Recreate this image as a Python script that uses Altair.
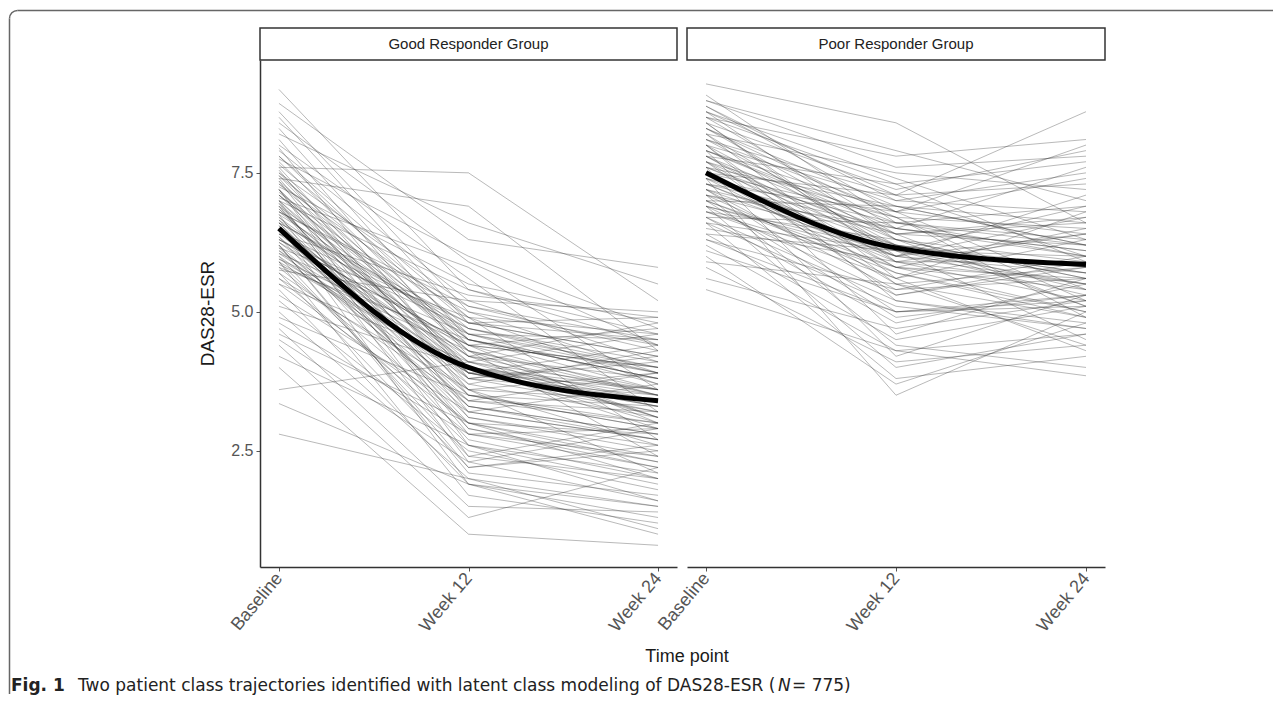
import altair as alt
import pandas as pd

timepoints = ["Baseline", "Week 12", "Week 24"]
group_titles = ["Good Responder Group", "Poor Responder Group"]
y_ticks = [2.5, 5.0, 7.5]

good_base = [9.0, 8.75, 8.6, 8.5, 8.4, 8.3, 8.2, 8.1, 8.0, 7.95, 7.9, 7.8, 7.75, 7.7, 7.6,
             7.55, 7.5, 7.45, 7.4, 7.35, 7.3, 7.25, 7.2, 7.15, 7.1, 7.05, 7.0, 6.95, 6.9, 6.85,
             6.8, 6.75, 6.7, 6.65, 6.6, 6.55, 6.5, 6.45, 6.4, 6.35, 6.3, 6.25, 6.2, 6.15, 6.1,
             6.05, 6.0, 5.95, 5.9, 5.85, 5.8, 5.75, 5.7, 5.6, 5.5, 5.4, 5.3, 5.2, 5.1, 5.0,
             4.9, 4.8, 4.7, 4.6, 4.5, 4.4, 4.2, 4.0, 3.6, 3.35, 2.8,
             7.65, 7.35, 7.1, 6.95, 6.85, 6.75, 6.65, 6.55, 6.45, 6.35,
             6.25, 6.15, 6.05, 5.95, 6.9, 7.2, 7.45, 6.6, 6.3, 7.0,
             7.8, 7.6, 7.5, 7.4, 7.3, 7.2, 7.1, 7.0, 6.9, 6.8, 6.7, 6.6, 6.5, 6.4, 6.3,
             6.2, 6.1, 6.0, 5.9, 5.8, 5.7, 5.6, 5.5, 6.8, 7.0, 7.2, 6.4, 6.6, 5.9, 6.2]
good_w12 = [5.4, 6.3, 5.0, 4.8, 5.9, 4.5, 6.6, 4.2, 5.6, 3.8, 5.2, 4.9, 6.0, 4.4, 7.5,
            3.5, 5.1, 4.7, 6.9, 3.2, 4.3, 5.5, 2.6, 4.6, 3.9, 5.8, 4.1, 2.9, 4.5, 3.6,
            5.0, 2.3, 4.2, 3.4, 4.8, 1.9, 4.0, 3.1, 5.3, 2.7, 4.4, 3.7, 2.1, 4.9, 3.3,
            4.6, 2.4, 3.9, 1.7, 4.3, 3.0, 5.2, 2.2, 3.6, 4.1, 1.9, 3.2, 2.5, 4.0, 2.0,
            3.5, 2.8, 1.5, 3.0, 2.3, 1.3, 2.6, 1.0, 4.1, 1.9, 2.0,
            4.8, 4.5, 4.4, 4.0, 3.9, 4.6, 4.3, 3.8, 4.1, 3.5,
            4.2, 3.4, 3.8, 4.4, 3.3, 3.7, 4.0, 3.0, 4.7, 5.4,
            4.6, 3.9, 4.3, 3.6, 4.9, 3.1, 4.5, 3.8, 2.8, 4.2, 3.5, 4.7, 2.9, 3.9, 4.4,
            3.2, 4.0, 3.6, 2.6, 4.5, 3.4, 2.8, 3.0, 5.1, 2.4, 4.0, 4.8, 3.3, 3.9, 2.2]
good_w24 = [4.6, 5.8, 3.9, 4.9, 4.4, 3.6, 5.5, 4.8, 3.2, 4.1, 5.0, 2.7, 4.7, 3.5, 5.2,
            2.9, 4.5, 3.9, 4.3, 3.7, 2.4, 4.8, 1.9, 4.0, 3.3, 3.6, 4.6, 2.2, 3.8, 2.6,
            4.4, 1.6, 3.1, 3.9, 4.2, 1.3, 3.4, 2.5, 4.9, 2.0, 3.0, 4.3, 1.7, 3.7, 2.8,
            4.5, 3.0, 3.2, 1.2, 3.5, 2.3, 4.1, 2.6, 2.1, 3.6, 1.5, 2.7, 1.8, 2.9, 1.1,
            3.3, 2.2, 1.4, 2.0, 2.9, 2.2, 1.6, 0.8, 3.1, 1.0, 1.5,
            4.2, 3.8, 4.0, 3.5, 3.3, 3.9, 3.6, 3.2, 3.4, 2.9,
            3.8, 3.0, 3.5, 4.0, 2.7, 3.1, 3.0, 2.4, 4.1, 4.4,
            3.7, 4.4, 3.1, 3.4, 4.6, 2.6, 3.9, 4.2, 2.9, 3.5, 3.0, 4.0, 2.3, 3.6, 4.7,
            2.7, 3.3, 3.9, 2.1, 3.8, 3.2, 2.4, 2.8, 4.3, 2.0, 3.6, 4.5, 2.8, 3.4, 2.5]

poor_base = [9.1, 8.6, 8.8, 8.7, 8.6, 8.5, 8.5, 8.4, 8.4, 8.3, 8.2, 8.2, 8.1, 8.0, 8.0,
             7.9, 7.9, 7.8, 7.8, 7.7, 7.7, 7.6, 7.6, 7.5, 7.5, 7.4, 7.4, 7.3, 7.3, 7.2,
             7.2, 7.1, 7.1, 7.0, 7.0, 6.9, 6.9, 6.8, 6.8, 6.7, 6.7, 6.6, 6.6, 6.5, 6.4,
             6.4, 6.3, 6.2, 6.1, 6.0, 5.9, 5.8, 5.6, 5.4,
             7.6, 7.5, 7.4, 7.3, 7.2, 7.7, 7.8, 7.9, 8.0, 8.1, 7.0, 6.9, 8.3, 7.5, 7.1,
             8.7, 8.6, 8.5, 8.4, 8.3, 8.2, 8.1, 8.0, 7.9, 7.8, 7.7, 7.6, 7.5, 7.4, 7.3,
             7.2, 7.1, 7.0, 6.9, 6.8, 6.7, 6.6, 8.8, 8.9, 6.3]
poor_w12 = [8.4, 7.1, 7.9, 6.8, 7.4, 6.5, 7.8, 6.0, 7.2, 6.9, 5.6, 7.5, 6.3, 7.0, 5.2,
            6.6, 4.6, 6.1, 7.3, 5.8, 6.7, 4.2, 6.4, 5.5, 7.1, 6.2, 3.5, 5.9, 6.8, 5.0,
            6.0, 4.4, 6.5, 5.7, 6.9, 5.3, 4.0, 6.3, 5.6, 4.8, 6.6, 5.1, 3.8, 5.9, 4.5,
            6.1, 5.4, 4.3, 5.0, 3.7, 5.5, 4.1, 4.7, 4.3,
            6.2, 5.8, 6.6, 6.0, 6.4, 6.3, 5.9, 6.5, 6.2, 6.8, 5.8, 6.1, 6.4, 6.7, 5.6,
            7.0, 6.3, 7.3, 5.9, 6.7, 6.1, 7.1, 5.5, 6.8, 6.4, 5.3, 6.9, 6.0, 5.7, 6.5,
            5.4, 6.2, 4.9, 6.0, 5.8, 5.2, 6.1, 7.6, 6.6, 5.0]
poor_w24 = [6.6, 8.6, 7.0, 8.0, 6.3, 7.6, 8.1, 5.5, 7.9, 6.2, 6.8, 7.2, 5.1, 7.5, 4.8,
            6.9, 5.6, 6.0, 5.9, 6.5, 4.9, 5.3, 6.7, 4.4, 7.3, 5.7, 5.0, 6.4, 5.4, 5.2,
            7.1, 4.0, 6.1, 5.0, 6.6, 5.8, 4.6, 5.6, 4.3, 5.5, 6.3, 4.7, 4.2, 5.9, 5.1,
            4.5, 6.0, 3.85, 5.3, 4.8, 4.9, 4.4, 5.2, 4.6,
            5.8, 5.4, 6.0, 5.7, 6.2, 5.9, 5.5, 6.1, 5.7, 6.4, 5.6, 5.3, 6.6, 5.2, 6.3,
            6.8, 5.6, 7.7, 5.2, 6.5, 6.9, 6.0, 5.8, 7.4, 5.1, 5.9, 6.2, 6.7, 4.9, 6.0,
            5.6, 5.4, 5.3, 6.4, 5.0, 4.7, 5.5, 7.8, 6.2, 5.1]

good_mean = [6.5, 4.0, 3.4]
poor_mean = [7.5, 6.15, 5.85]

assert len(good_base) == len(good_w12) == len(good_w24)
assert len(poor_base) == len(poor_w12) == len(poor_w24)


def long_df(base, w12, w24):
    rows = []
    for i, vals in enumerate(zip(base, w12, w24)):
        for t, v in zip(timepoints, vals):
            rows.append({"id": i, "time": t, "value": v})
    return pd.DataFrame(rows)


def mean_df(vals):
    return pd.DataFrame({"time": timepoints, "value": vals})


FONT = "Liberation Sans"
CAP_FONT = "DejaVu Sans"
CAP_SIZE = 17
H = 507
Y_DOMAIN = [0.41, 9.53]
one = alt.Data(values=[{}])


def panel(df, mdf, title, width, show_y):
    x = alt.X("time:N",
              scale=alt.Scale(type="point", domain=timepoints, padding=0.1),
              axis=alt.Axis(title=None, labelAngle=-50, labelAlign="right",
                            labelBaseline="middle", labelFontSize=18, labelColor="#555555",
                            labelFont=FONT, tickColor="#555555", tickSize=4, labelPadding=4,
                            domainColor="#333333", domainWidth=1.5, grid=False))
    if show_y:
        yax = alt.Axis(title=None, values=y_ticks, format=".1f", labelFontSize=16,
                       labelColor="#555555", labelFont=FONT, tickColor="#555555", tickSize=4,
                       labelPadding=3, domainColor="#333333", domainWidth=1.5, grid=False)
    else:
        yax = None
    y = alt.Y("value:Q", scale=alt.Scale(domain=Y_DOMAIN, nice=False, zero=False), axis=yax)

    lines = alt.Chart(df).mark_line(stroke="#333333", strokeWidth=1, opacity=0.34).encode(
        x=x, y=y, detail="id:N")
    mean = alt.Chart(mdf).mark_line(color="black", strokeWidth=5, interpolate="monotone").encode(
        x=x, y=y)
    strip = alt.Chart(one).mark_rect(fill="white", stroke="#333333", strokeWidth=1.5).encode(
        x=alt.value(0), x2=alt.value(width), y=alt.value(-32), y2=alt.value(0))
    strip_text = alt.Chart(one).mark_text(text=title, fontSize=15, font=FONT, color="#222222",
                                          baseline="middle", align="center").encode(
        x=alt.value(width / 2), y=alt.value(-16))
    layers = [lines, mean, strip, strip_text]

    if show_y:
        anchor = alt.Chart(one).mark_rule(opacity=0).encode(
            x=alt.value(-252), x2=alt.value(-251), y=alt.value(-52))
        frame_top = alt.Chart(one).mark_rule(color="#666666", strokeWidth=1.5).encode(
            x=alt.value(-242.5), x2=alt.value(1013), y=alt.value(-49.5))
        frame_left = alt.Chart(one).mark_rule(color="#666666", strokeWidth=1.5).encode(
            x=alt.value(-250.5), y=alt.value(-41.5), y2=alt.value(634))
        frame_corner = alt.Chart(one).mark_arc(color="#666666").encode(
            x=alt.value(-242.5), y=alt.value(-41.5),
            theta=alt.value(4.7124), theta2=alt.value(6.2832),
            radius=alt.value(8.75), radius2=alt.value(7.25))
        ytitle = alt.Chart(one).mark_text(text="DAS28-ESR", fontSize=19, font=FONT, angle=270,
                                          color="#1a1a1a", baseline="middle", align="center").encode(
            x=alt.value(-52.5), y=alt.value(H / 2))
        xtitle = alt.Chart(one).mark_text(text="Time point", fontSize=18, font=FONT,
                                          color="#1a1a1a", baseline="middle", align="center").encode(
            x=alt.value(427), y=alt.value(597))
        cap_bold = alt.Chart(one).mark_text(text="Fig. 1", fontSize=CAP_SIZE, font=CAP_FONT,
                                            fontWeight="bold", color="#222222", align="left",
                                            baseline="alphabetic").encode(
            x=alt.value(-249), y=alt.value(631))
        cap_main = alt.Chart(one).mark_text(
            text="Two patient class trajectories identified with latent class modeling of DAS28-ESR (",
            fontSize=CAP_SIZE, font=CAP_FONT, color="#222222", align="left",
            baseline="alphabetic").encode(x=alt.value(-182), y=alt.value(631))
        cap_n = alt.Chart(one).mark_text(text="N", fontSize=CAP_SIZE, font=CAP_FONT,
                                         fontStyle="italic", color="#222222", align="left",
                                         baseline="alphabetic").encode(
            x=alt.value(518), y=alt.value(631))
        cap_end = alt.Chart(one).mark_text(text="= 775)", fontSize=CAP_SIZE, font=CAP_FONT,
                                           color="#222222", align="left", baseline="alphabetic").encode(
            x=alt.value(532), y=alt.value(631))
        layers += [anchor, frame_top, frame_left, frame_corner, ytitle, xtitle,
                   cap_bold, cap_main, cap_n, cap_end]

    return alt.layer(*layers).properties(width=width, height=H)


left = panel(long_df(good_base, good_w12, good_w24), mean_df(good_mean), group_titles[0], 417, True)
right = panel(long_df(poor_base, poor_w12, poor_w24), mean_df(poor_mean), group_titles[1], 418, False)

chart = alt.hconcat(left, right, spacing=10, bounds="flush").properties(
    padding=0, background="white"
).configure(font=FONT).configure_view(stroke=None)

chart.save("out.html", embed_options={"renderer": "svg", "actions": False})
